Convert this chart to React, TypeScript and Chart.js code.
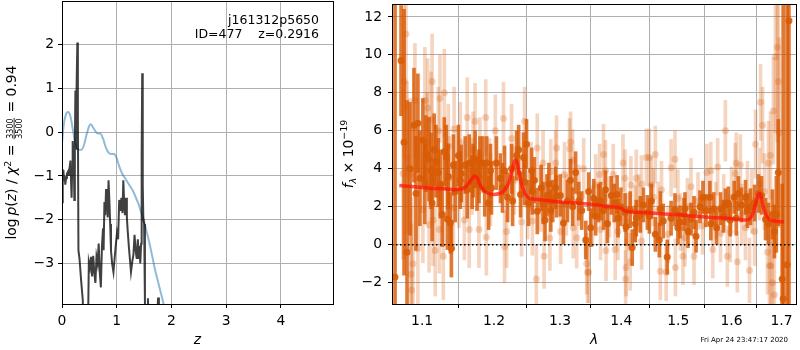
import React, { useEffect, useRef } from "react";
import { Chart, registerables } from "chart.js";
Chart.register(...registerables);

const FAM = '"DejaVu Sans", sans-serif';

// ---------- Left panel: log p(z) ----------
const pzZ = [0.000, 0.008, 0.018, 0.030, 0.040, 0.050, 0.060, 0.075, 0.090, 0.110, 0.125, 0.140, 0.155, 0.165, 0.175, 0.185, 0.195, 0.205, 0.215, 0.225, 0.235, 0.245, 0.255, 0.265, 0.280, 0.290, 0.300, 0.320, 0.350, 0.380, 0.395, 0.470, 0.490, 0.510, 0.530, 0.550, 0.570, 0.590, 0.610, 0.630, 0.650, 0.670, 0.690, 0.710, 0.730, 0.750, 0.760, 0.775, 0.790, 0.805, 0.820, 0.835, 0.850, 0.865, 0.880, 0.895, 0.915, 0.940, 0.960, 0.985, 1.005, 1.025, 1.045, 1.065, 1.085, 1.105, 1.120, 1.135, 1.150, 1.170, 1.185, 1.200, 1.220, 1.240, 1.260, 1.285, 1.305, 1.325, 1.345, 1.365, 1.385, 1.400, 1.415, 1.430, 1.445, 1.455, 1.465, 1.475, 1.485, 1.500, 1.515, 1.525, 1.560, 1.570, 1.580, 1.740, 1.755, 1.770, 2.000];
const pzLog = [-1.60, -0.85, -1.00, -0.95, -1.10, -1.00, -1.20, -1.05, -0.95, -0.90, -1.00, -0.80, -0.65, -1.10, -1.50, -0.90, -0.20, -0.55, -0.35, -1.55, -0.25, 0.95, -0.40, 0.90, 2.05, 0.40, -2.70, -2.90, -3.40, -3.85, -5.0, -5.0, -2.97, -3.10, -2.85, -3.30, -2.83, -3.20, -3.45, -2.85, -3.00, -2.55, -3.20, -3.55, -2.60, -2.20, -2.70, -1.60, -1.90, -1.30, -1.55, -1.95, -1.10, -1.55, -2.10, -2.70, -3.00, -3.20, -2.90, -2.55, -2.30, -2.45, -1.55, -1.80, -1.50, -1.85, -1.10, -1.60, -1.90, -1.50, -1.95, -2.25, -2.60, -2.90, -3.20, -2.95, -2.80, -2.35, -2.70, -2.90, -2.45, -2.90, -2.60, -3.00, -2.55, -0.50, 1.35, -1.20, -1.95, -2.10, -3.90, -5.0, -4.2, -3.80, -4.2, -4.2, -3.78, -4.2, -5.0];

const chiZ = [0.00, 0.03, 0.07, 0.11, 0.15, 0.20, 0.25, 0.30, 0.36, 0.40, 0.45, 0.50, 0.53, 0.57, 0.62, 0.66, 0.70, 0.75, 0.80, 0.85, 0.90, 0.95, 1.00, 1.05, 1.10, 1.15, 1.20, 1.25, 1.30, 1.35, 1.40, 1.45, 1.50, 1.55, 1.60, 1.65, 1.70, 1.75, 1.80, 1.85, 1.90];
const chiLog = [-0.25, 0.15, 0.40, 0.46, 0.38, 0.05, -0.30, -0.40, -0.40, -0.30, -0.05, 0.15, 0.18, 0.10, 0.00, -0.03, -0.03, -0.15, -0.35, -0.47, -0.50, -0.50, -0.60, -0.80, -0.95, -1.05, -1.15, -1.25, -1.35, -1.50, -1.65, -1.85, -2.05, -2.30, -2.55, -2.85, -3.15, -3.40, -3.65, -3.90, -4.20];

const leftXTicks = [0, 1, 2, 3, 4];
const leftYTicks = [-3, -2, -1, 0, 1, 2];
const leftXRange = [0, 4.95];
const leftYRange = [-3.93, 3.0];
const annotLine1 = "j161312p5650";
const annotLine2 = "ID=477    z=0.2916";

// ---------- Right panel: spectrum ----------
const darkLam = [1.0645, 1.0723, 1.0762, 1.0801, 1.0840, 1.0892, 1.0918, 1.0944, 1.0970, 1.1010, 1.1037, 1.1051, 1.1093, 1.1120, 1.1134, 1.1162, 1.1186, 1.1217, 1.1245, 1.1272, 1.1300, 1.1328, 1.1342, 1.1355, 1.1383, 1.1397, 1.1425, 1.1450, 1.1494, 1.1521, 1.1535, 1.1590, 1.1618, 1.1646, 1.1687, 1.1701, 1.1729, 1.1756, 1.1784, 1.1798, 1.1839, 1.1867, 1.1895, 1.1923, 1.1950, 1.1964, 1.2036, 1.2095, 1.2125, 1.2155, 1.2200, 1.2259, 1.2274, 1.2334, 1.2364, 1.2393, 1.2438, 1.2453, 1.2483, 1.2513, 1.2560, 1.2572, 1.2602, 1.2647, 1.2706, 1.2736, 1.2766, 1.2796, 1.2826, 1.2855, 1.2885, 1.2930, 1.2945, 1.3005, 1.3054, 1.3118, 1.3167, 1.3200, 1.3248, 1.3297, 1.3346, 1.3411, 1.3459, 1.3492, 1.3541, 1.3573, 1.3622, 1.3654, 1.3703, 1.3735, 1.3768, 1.3833, 1.3881, 1.3930, 1.3946, 1.3995, 1.4065, 1.4082, 1.4153, 1.4188, 1.4240, 1.4258, 1.4328, 1.4381, 1.4451, 1.4486, 1.4521, 1.4591, 1.4661, 1.4679, 1.4731, 1.4802, 1.4872, 1.4942, 1.4995, 1.5031, 1.5106, 1.5124, 1.5180, 1.5235, 1.5291, 1.5328, 1.5402, 1.5457, 1.5513, 1.5587, 1.5605, 1.5661, 1.5716, 1.5790, 1.5846, 1.5883, 1.5939, 1.5976, 1.6054, 1.6094, 1.6134, 1.6194, 1.6274, 1.6314, 1.6374, 1.6454, 1.6534, 1.6594, 1.6674, 1.6734, 1.6814, 1.6854, 1.6894, 1.6934, 1.7014, 1.7034, 1.7114, 1.7154];
const darkFlux = [-1.7, 9.7, 5.4, -0.4, 4.0, 6.3, 2.7, 6.4, 3.5, 5.5, 3.2, 4.8, 4.5, 3.9, 2.2, 5.0, 4.4, 3.8, 3.2, 1.6, 4.9, 4.6, 1.35, 3.6, 1.15, -0.2, 4.2, 2.8, 4.7, 3.4, 3.75, 4.2, 2.9, 4.3, 3.3, 3.9, 4.5, 3.2, 3.6, 4.3, 4.3, 2.9, 4.3, 2.2, 3.9, 3.0, 4.3, 3.5, 3.0, 3.9, 2.5, 4.0, 2.3, 4.7, 5.0, 2.65, 4.6, 3.3, 5.3, 2.2, 3.9, 2.8, 3.4, 1.77, 3.0, 2.2, 1.3, 2.6, 3.2, 1.8, 2.3, 3.0, 2.55, 2.6, 1.15, 2.3, 3.4, 2.0, 3.8, 2.3, 1.8, 0.25, 2.8, 0.9, 2.45, 1.5, 2.2, 2.3, 1.8, 2.9, 1.1, 2.6, 2.2, 2.65, 1.4, 2.0, 1.7, 0.95, 1.85, -0.15, 1.1, 1.4, 1.6, 2.1, 1.7, 1.5, 2.3, 0.55, 0.25, 1.9, 1.25, -0.65, 1.4, 1.85, 0.9, 1.2, 1.6, 1.9, 0.7, 1.35, 1.7, 0.45, 2.0, 2.5, 1.8, 2.5, 1.1, 1.9, 0.9, 1.9, 1.5, 2.1, 2.2, 1.3, 2.5, 1.4, 2.7, 2.1, 2.5, 1.8, 2.0, 2.2, 2.7, 2.6, 1.35, 1.1, 1.6, 0.7, 1.6, 3.8, -1.8, -2.85, -1.05, 11.8];
const darkErr = [16, 2.9, 7, 8, 3.5, 3.0, 3.0, 2.6, 2.5, 2.2, 2.1, 2.0, 2.2, 2.0, 2.0, 1.9, 1.9, 1.8, 1.8, 1.7, 1.8, 1.7, 1.6, 1.7, 1.6, 1.5, 1.6, 1.6, 1.6, 1.5, 1.5, 1.5, 1.5, 1.5, 1.4, 1.4, 1.5, 1.4, 1.4, 1.4, 1.4, 1.4, 1.4, 1.4, 1.4, 1.4, 1.4, 1.3, 1.3, 1.3, 1.3, 1.3, 1.3, 1.3, 1.3, 1.2, 1.3, 1.2, 1.3, 1.2, 1.2, 1.2, 1.2, 1.2, 1.2, 1.1, 1.1, 1.1, 1.1, 1.1, 1.1, 1.1, 1.1, 1.1, 1.1, 1.1, 1.1, 1.0, 1.1, 1.0, 1.0, 1.0, 1.0, 1.0, 1.0, 1.0, 1.0, 1.0, 1.0, 1.0, 1.0, 1.0, 1.0, 1.0, 1.0, 1.0, 1.0, 1.0, 0.95, 0.95, 0.95, 0.95, 0.95, 0.9, 0.9, 0.9, 0.9, 0.9, 0.9, 0.9, 0.9, 0.9, 0.9, 0.85, 0.85, 0.85, 0.85, 0.85, 0.85, 0.85, 0.85, 0.85, 0.85, 0.85, 0.85, 0.85, 0.85, 0.85, 0.85, 0.85, 0.85, 0.85, 0.85, 0.85, 0.85, 0.9, 0.9, 0.9, 0.9, 0.9, 0.95, 0.95, 1.0, 1.0, 1.1, 1.1, 1.3, 1.4, 2.0, 2.8, 5, 16, 16, 16];

const lightLam = [1.0749, 1.0762, 1.0788, 1.0801, 1.0840, 1.0853, 1.0860, 1.0879, 1.0905, 1.0944, 1.1010, 1.1037, 1.1065, 1.1075, 1.1093, 1.1120, 1.1134, 1.1145, 1.1176, 1.1217, 1.1231, 1.1240, 1.1286, 1.1300, 1.1355, 1.1365, 1.1425, 1.1435, 1.1500, 1.1521, 1.1577, 1.1618, 1.1646, 1.1687, 1.1701, 1.1729, 1.1784, 1.1798, 1.1881, 1.1890, 1.1936, 1.1950, 1.2020, 1.2140, 1.2155, 1.2185, 1.2259, 1.2300, 1.2408, 1.2453, 1.2498, 1.2550, 1.2572, 1.2632, 1.2647, 1.2700, 1.2736, 1.2751, 1.2841, 1.2855, 1.2930, 1.2945, 1.3010, 1.3070, 1.3100, 1.3151, 1.3167, 1.3200, 1.3210, 1.3265, 1.3300, 1.3378, 1.3427, 1.3440, 1.3459, 1.3520, 1.3573, 1.3638, 1.3654, 1.3703, 1.3735, 1.3745, 1.3800, 1.3865, 1.3898, 1.3946, 1.4030, 1.4065, 1.4075, 1.4082, 1.4120, 1.4153, 1.4165, 1.4240, 1.4258, 1.4300, 1.4346, 1.4350, 1.4433, 1.4486, 1.4521, 1.4556, 1.4591, 1.4640, 1.4679, 1.4700, 1.4784, 1.4819, 1.4872, 1.4942, 1.4950, 1.4995, 1.5040, 1.5087, 1.5124, 1.5170, 1.5235, 1.5291, 1.5365, 1.5450, 1.5531, 1.5605, 1.5642, 1.5700, 1.5735, 1.5790, 1.5850, 1.5883, 1.5920, 1.5976, 1.6000, 1.6074, 1.6094, 1.6114, 1.6174, 1.6200, 1.6274, 1.6314, 1.6354, 1.6400, 1.6454, 1.6474, 1.6554, 1.6574, 1.6614, 1.6654, 1.6714, 1.6734, 1.6754, 1.6774, 1.6780, 1.6814, 1.6834, 1.6854, 1.6874, 1.6914, 1.6934, 1.6954];
const lightFlux = [3.75, 8.6, 11.1, 4.6, 3.7, -1.55, -2.4, -1.0, 7.6, -0.2, 1.85, 7.6, 5.4, 7.2, 1.05, 6.6, 8.6, 1.3, -0.3, 6.0, 0.8, 7.7, -0.6, 8.0, 5.2, 3.5, 1.95, 6.1, 3.0, 5.4, 1.3, 6.7, 0.8, 3.6, 5.0, 6.5, 0.8, 4.7, 6.7, 0.4, 3.7, 2.9, 6.0, 6.65, -0.1, 0.7, 5.6, 3.4, 1.2, 6.5, 2.1, 3.6, 1.25, -1.8, 5.1, 2.4, 4.3, -0.6, 0.35, 3.85, 4.3, 5.1, 0.7, 3.7, 2.1, 5.05, 5.4, 4.45, 0.9, 0.37, 2.6, 4.0, -1.0, -1.45, -1.45, 1.5, 3.15, 3.7, 0.8, 4.75, 3.9, -0.3, 2.0, 3.7, -0.25, 0.7, 4.3, 3.5, -1.8, -1.2, 1.2, -0.9, 3.15, 1.6, 3.5, 2.2, 3.2, 0.2, 4.6, 4.6, 3.15, 2.5, 4.75, 1.8, -1.4, 2.9, -1.45, 0.55, 4.05, 4.5, -1.2, 2.45, 1.2, -0.6, 0.37, 2.0, 3.05, -0.6, 2.3, 1.0, 3.8, 3.9, -0.25, 1.8, 4.1, 0.6, 2.2, 6.0, -0.6, 0.7, 2.5, 3.75, 4.3, -0.9, 4.2, 1.6, 0.9, 2.7, -1.35, 2.3, 0.7, 5.3, 3.2, 7.5, 6.3, 2.8, -0.4, 4.3, -1.1, 4.7, -1.1, -2.0, 7.05, -2.65, 9.9, 10.4, 8.6, 5.9];
const lightErr = [4.5, 4, 4, 4, 4, 3.5, 3.5, 3.5, 3, 3, 2.8, 2.8, 2.6, 2.6, 2.5, 2.5, 2.5, 2.4, 2.4, 2.3, 2.3, 2.3, 2.3, 2.3, 2.2, 2.2, 2.2, 2.2, 2.1, 2.1, 2.1, 2.1, 2.0, 2.0, 2.0, 2.0, 2.0, 2.0, 2.0, 2.0, 1.9, 1.9, 1.9, 1.9, 1.9, 1.9, 1.8, 1.8, 1.8, 1.8, 1.8, 1.8, 1.8, 1.8, 1.8, 1.7, 1.7, 1.7, 1.7, 1.7, 1.7, 1.7, 1.7, 1.7, 1.6, 1.6, 1.6, 1.6, 1.6, 1.6, 1.6, 1.6, 1.6, 1.6, 1.6, 1.6, 1.6, 1.6, 1.6, 1.6, 1.6, 1.6, 1.6, 1.6, 1.6, 1.5, 1.5, 1.5, 1.5, 1.5, 1.5, 1.5, 1.5, 1.5, 1.5, 1.5, 1.5, 1.5, 1.5, 1.5, 1.5, 1.5, 1.5, 1.5, 1.5, 1.5, 1.5, 1.5, 1.5, 1.5, 1.5, 1.5, 1.5, 1.5, 1.5, 1.5, 1.5, 1.5, 1.5, 1.5, 1.5, 1.5, 1.5, 1.5, 1.5, 1.5, 1.5, 1.6, 1.6, 1.6, 1.6, 1.6, 1.6, 1.6, 1.6, 1.6, 1.7, 1.7, 1.7, 1.7, 1.8, 1.8, 1.9, 2.0, 2.0, 2.0, 2.2, 2.2, 2.3, 2.3, 2.3, 2.5, 2.8, 3, 4, 5, 5, 5];

const modelLam = [1.070, 1.090, 1.110, 1.130, 1.145, 1.155, 1.162, 1.168, 1.172, 1.176, 1.180, 1.186, 1.192, 1.200, 1.208, 1.215, 1.222, 1.227, 1.231, 1.234, 1.237, 1.241, 1.246, 1.252, 1.260, 1.280, 1.300, 1.330, 1.360, 1.380, 1.400, 1.405, 1.410, 1.440, 1.470, 1.500, 1.530, 1.560, 1.590, 1.610, 1.628, 1.635, 1.642, 1.648, 1.653, 1.656, 1.659, 1.663, 1.668, 1.675, 1.685, 1.705];
const modelFlux = [3.12, 3.05, 2.98, 2.95, 2.90, 2.95, 3.15, 3.45, 3.62, 3.50, 3.15, 2.85, 2.70, 2.65, 2.70, 2.85, 3.30, 3.95, 4.45, 4.35, 3.85, 3.15, 2.70, 2.45, 2.40, 2.33, 2.25, 2.18, 2.10, 2.00, 1.93, 1.80, 1.75, 1.70, 1.63, 1.58, 1.50, 1.44, 1.40, 1.35, 1.30, 1.35, 1.65, 2.20, 2.65, 2.70, 2.50, 2.00, 1.60, 1.35, 1.25, 1.20];

const rightXTicks = [1.1, 1.2, 1.3, 1.4, 1.5, 1.6, 1.7];
const rightYTicks = [-2, 0, 2, 4, 6, 8, 10, 12];
const rightXRange = [1.0606, 1.7301];
const rightYRange = [-3.12, 12.68];
const timestamp = "Fri Apr 24 23:47:17 2020";

// ---------- helpers ----------
const framePlugin = {
  id: "frame",
  afterDatasetsDraw(chart: any) {
    const { ctx, chartArea: a } = chart;
    ctx.save();
    ctx.strokeStyle = "#000";
    ctx.lineWidth = 1;
    ctx.strokeRect(Math.round(a.left) + 0.5, Math.round(a.top) + 0.5, Math.round(a.right - a.left), Math.round(a.bottom - a.top));
    ctx.restore();
  },
};

type Piece = { t?: string; font: string; dy?: number; frac?: [string, string] };

function drawRotated(ctx: CanvasRenderingContext2D, pieces: Piece[], bx: number, cy: number) {
  ctx.save();
  ctx.translate(bx, cy);
  ctx.rotate(-Math.PI / 2);
  ctx.textBaseline = "alphabetic";
  ctx.fillStyle = "#000";
  const widths = pieces.map((p) => {
    ctx.font = p.font;
    if (p.frac) return Math.max(ctx.measureText(p.frac[0]).width, ctx.measureText(p.frac[1]).width) + 3;
    return ctx.measureText(p.t || "").width;
  });
  const total = widths.reduce((s, w) => s + w, 0);
  let x = -total / 2;
  pieces.forEach((p, i) => {
    ctx.font = p.font;
    const w = widths[i];
    if (p.frac) {
      ctx.textAlign = "center";
      ctx.fillText(p.frac[0], x + w / 2, -3);
      ctx.fillText(p.frac[1], x + w / 2, 5.5);
      ctx.fillRect(x + 1, -2.3, w - 2, 0.8);
    } else {
      ctx.textAlign = "left";
      ctx.fillText(p.t || "", x, p.dy || 0);
    }
    x += w;
  });
  ctx.restore();
}

const R = `13.9px ${FAM}`;
const I = `italic 13.9px ${FAM}`;

const leftTextPlugin = {
  id: "leftText",
  afterDraw(chart: any) {
    const { ctx, chartArea: a } = chart;
    ctx.save();
    ctx.fillStyle = "#000";
    ctx.font = `12.5px ${FAM}`;
    ctx.textAlign = "right";
    ctx.textBaseline = "alphabetic";
    ctx.fillText(annotLine1, 319, 24);
    ctx.fillText(annotLine2, 319, 38);
    ctx.textAlign = "center";
    ctx.font = I;
    ctx.fillText("z", (a.left + a.right) / 2, 344);
    ctx.restore();
    drawRotated(ctx, [
      { t: "log", font: R },
      { t: " ", font: `9px ${FAM}` },
      { t: "p", font: I },
      { t: "(", font: R },
      { t: "z", font: I },
      { t: ")", font: R },
      { t: " / ", font: R },
      { t: "χ", font: I },
      { t: "2", font: `9.5px ${FAM}`, dy: -5 },
      { t: " = ", font: R },
      { frac: ["3300", "3500"], font: `8px ${FAM}` },
      { t: " = 0.94", font: R },
    ], 16, (a.top + a.bottom) / 2);
  },
};

const rightTextPlugin = {
  id: "rightText",
  afterDraw(chart: any) {
    const { ctx, chartArea: a } = chart;
    ctx.save();
    ctx.fillStyle = "#000";
    ctx.textAlign = "center";
    ctx.textBaseline = "alphabetic";
    ctx.font = I;
    ctx.fillText("λ", (a.left + a.right) / 2, 344);
    ctx.font = `7px ${FAM}`;
    ctx.textAlign = "right";
    ctx.fillText(timestamp, 448, 342);
    ctx.restore();
    drawRotated(ctx, [
      { t: "f", font: I },
      { t: "λ", font: `italic 9.5px ${FAM}`, dy: 3 },
      { t: " × 10", font: R },
      { t: "−19", font: `9.5px ${FAM}`, dy: -6 },
    ], 13, (a.top + a.bottom) / 2);
  },
};

function axisOpts(range: number[], ticks: number[], fmt: (v: number) => string, isX: boolean, size: number, pad: number, type = "linear") {
  return {
    type,
    min: range[0],
    max: range[1],
    bounds: "data",
    afterBuildTicks: (s: any) => {
      s.ticks = ticks.map((v) => ({ value: v }));
    },
    afterFit: (s: any) => {
      if (isX) s.height = size;
      else s.width = size;
      s.paddingLeft = 0;
      s.paddingRight = 0;
      s.paddingTop = 0;
      s.paddingBottom = 0;
    },
    grid: { color: "#b0b0b0", lineWidth: 1, drawTicks: true, tickLength: 4, tickColor: "#000", tickWidth: 1 },
    border: { display: false },
    ticks: {
      color: "#000",
      font: { family: "DejaVu Sans", size: 13.9 },
      padding: pad,
      autoSkip: false,
      maxRotation: 0,
      minRotation: 0,
      callback: (v: any) => fmt(Number(v)),
    },
  };
}

const minusFmt = (v: number) => String(v).replace("-", "−");

function LeftPanel() {
  const ref = useRef<HTMLCanvasElement>(null);
  useEffect(() => {
    const chart = new Chart(ref.current as HTMLCanvasElement, {
      type: "line",
      data: {
        datasets: [
          {
            data: pzZ.map((z, i) => ({ x: z, y: pzLog[i] })),
            borderColor: "rgba(0,0,0,0.75)",
            borderWidth: 2,
            pointRadius: 0,
            tension: 0,
            order: 0,
          },
          {
            data: chiZ.map((z, i) => ({ x: z, y: chiLog[i] })),
            borderColor: "rgba(31,119,180,0.5)",
            borderWidth: 2,
            pointRadius: 0,
            cubicInterpolationMode: "monotone",
            order: 1,
          },
        ],
      } as any,
      options: {
        animation: false,
        responsive: false,
        devicePixelRatio: 1,
        layout: { padding: { top: 1, right: 7, left: 0, bottom: 0 } },
        plugins: { legend: { display: false }, tooltip: { enabled: false } },
        scales: {
          x: axisOpts(leftXRange, leftXTicks, (v) => String(v), true, 46, 5),
          y: axisOpts(leftYRange, leftYTicks, minusFmt, false, 62, 4),
        } as any,
      },
      plugins: [framePlugin, leftTextPlugin],
    });
    return () => chart.destroy();
  }, []);
  return <canvas ref={ref} width={340} height={350} style={{ position: "absolute", left: 0, top: 0 }} />;
}

function RightPanel() {
  const ref = useRef<HTMLCanvasElement>(null);
  useEffect(() => {
    const dark = "rgba(216,88,0,0.8)";
    const darkPt = "rgba(216,92,5,0.9)";
    const light = "rgba(216,88,0,0.25)";
    const chart = new Chart(ref.current as HTMLCanvasElement, {
      type: "line",
      data: {
        datasets: [
          {
            type: "line",
            data: modelLam.map((l, i) => ({ x: l, y: modelFlux[i] })),
            borderColor: "rgba(255,20,10,0.72)",
            borderWidth: 3.5,
            pointRadius: 0,
            cubicInterpolationMode: "monotone",
            order: 0,
          },
          {
            type: "line",
            data: [
              { x: rightXRange[0], y: 0 },
              { x: rightXRange[1], y: 0 },
            ],
            borderColor: "#000",
            borderWidth: 1.5,
            borderDash: [1.5, 2.5],
            pointRadius: 0,
            order: 1,
          },
          {
            type: "scatter",
            data: darkLam.map((l, i) => ({ x: l, y: darkFlux[i] })),
            backgroundColor: darkPt,
            pointRadius: 3.5,
            pointBorderWidth: 0,
            borderWidth: 0,
            order: 2,
          },
          {
            type: "bar",
            data: darkLam.map((l, i) => ({ x: l, y: [darkFlux[i] - darkErr[i], darkFlux[i] + darkErr[i]] })),
            backgroundColor: dark,
            borderWidth: 0,
            barThickness: 3,
            grouped: false,
            order: 3,
          },
          {
            type: "scatter",
            data: lightLam.map((l, i) => ({ x: l, y: lightFlux[i] })),
            backgroundColor: light,
            pointRadius: 3.5,
            pointBorderWidth: 0,
            borderWidth: 0,
            order: 4,
          },
          {
            type: "bar",
            data: lightLam.map((l, i) => ({ x: l, y: [lightFlux[i] - lightErr[i], lightFlux[i] + lightErr[i]] })),
            backgroundColor: light,
            borderWidth: 0,
            barThickness: 3,
            grouped: false,
            order: 5,
          },
        ],
      } as any,
      options: {
        animation: false,
        responsive: false,
        devicePixelRatio: 1,
        layout: { padding: { top: 1, right: 1, left: 0, bottom: 0 } },
        plugins: { legend: { display: false }, tooltip: { enabled: false } },
        scales: {
          x: { ...axisOpts(rightXRange, rightXTicks, (v) => v.toFixed(1), true, 46, 5, "logarithmic"), offset: false },
          y: axisOpts(rightYRange, rightYTicks, minusFmt, false, 52, 6),
        } as any,
      },
      plugins: [framePlugin, rightTextPlugin],
    });
    return () => chart.destroy();
  }, []);
  return <canvas ref={ref} width={460} height={350} style={{ position: "absolute", left: 340, top: 0 }} />;
}

export default function App() {
  return (
    <div style={{ position: "absolute", left: 0, top: 0, width: 800, height: 350, background: "#fff" }}>
      <LeftPanel />
      <RightPanel />
    </div>
  );
}
